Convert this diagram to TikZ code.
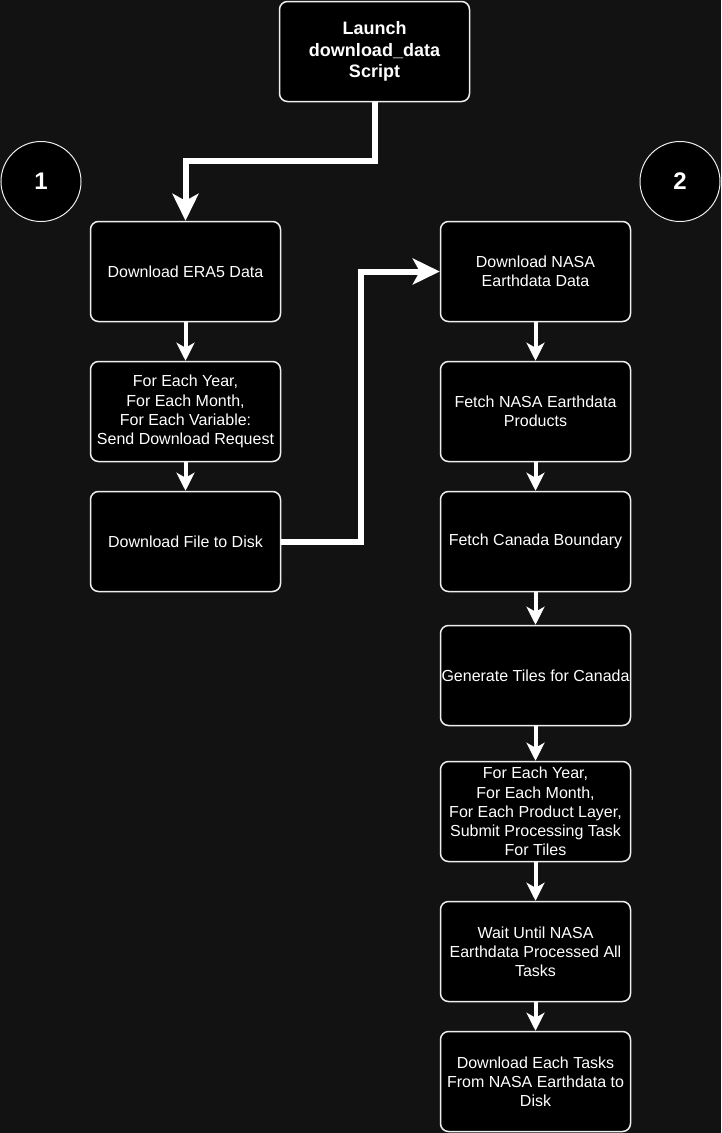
\documentclass[tikz,border=0pt]{standalone}
\usepackage{fontspec}
\setmainfont{Liberation Sans}
\usetikzlibrary{arrows.meta}
\definecolor{bg}{HTML}{121212}
\definecolor{edge}{HTML}{EEEEEE}
\begin{document}
\begin{tikzpicture}[x=1pt,y=-1pt,
  box/.style={draw=edge, line width=1.5pt, fill=black, rounded corners=8pt,
    minimum width=190pt, minimum height=100pt, inner sep=0pt, align=center,
    text=white, font=\fontsize{16}{19.2}\selectfont},
  titlebox/.style={box, font=\bfseries\fontsize{18}{21.6}\selectfont},
  badge/.style={circle, draw=edge, line width=1pt, fill=black, minimum size=80pt,
    inner sep=0pt, text=white, font=\bfseries\fontsize{24}{28}\selectfont},
  flow/.style={draw=white, line width=4pt,
    -{Stealth[length=18pt, width=18pt, inset=5pt]}},
  bigflow/.style={draw=white, line width=6pt,
    -{Stealth[length=27pt, width=26pt, inset=7pt]}}
]
\fill[bg] (0,0) rectangle (721,1133);
\useasboundingbox (0,0) rectangle (721,1133);

\node[titlebox] (launch) at (374.5,51.5) {Launch\\download\_data\\Script};
\node[badge] (one) at (41,181.5) {1};
\node[badge] (two) at (680,181.5) {2};

\node[box] (era5) at (185.5,271.5) {Download ERA5 Data};
\node[box] (req) at (185.5,411.5) {For Each Year,\\For Each Month,\\For Each Variable:\\Send Download Request};
\node[box] (dlfile) at (185.5,541.5) {Download File to Disk};

\node[box] (nasa) at (535.5,271.5) {Download NASA\\Earthdata Data};
\node[box] (fetch) at (535.5,411.5) {Fetch NASA Earthdata\\Products};
\node[box] (canada) at (535.5,541.5) {Fetch Canada Boundary};
\node[box] (tiles) at (535.5,675.5) {Generate Tiles for Canada};
\node[box] (submit) at (535.5,811.5) {For Each Year,\\For Each Month,\\For Each Product Layer,\\Submit Processing Task\\For Tiles};
\node[box] (wait) at (535.5,951.5) {Wait Until NASA\\Earthdata Processed All\\Tasks};
\node[box] (dleach) at (535.5,1081.5) {Download Each Tasks\\From NASA Earthdata to\\Disk};

\coordinate (j1) at (185.5,161);
\coordinate (j2) at (361,541.5);
\coordinate (j3) at (361,271.5);

\draw[bigflow] (launch.south) |- (j1) -- (era5.north);
\draw[bigflow] (dlfile.east) -- (j2) -- (j3) -- (nasa.west);

\draw[flow] (era5) -- (req);
\draw[flow] (req) -- (dlfile);
\draw[flow] (nasa) -- (fetch);
\draw[flow] (fetch) -- (canada);
\draw[flow] (canada) -- (tiles);
\draw[flow] (tiles) -- (submit);
\draw[flow] (submit) -- (wait);
\draw[flow] (wait) -- (dleach);
\end{tikzpicture}
\end{document}
